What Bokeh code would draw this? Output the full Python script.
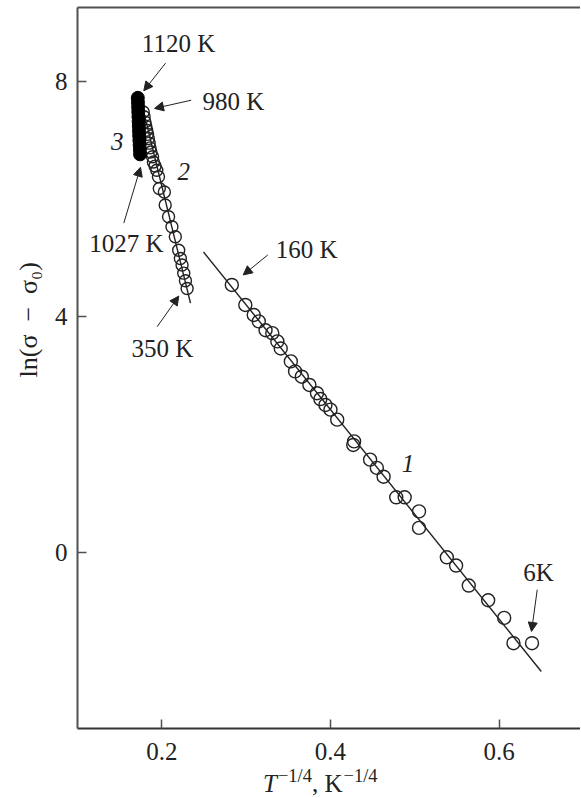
from bokeh.plotting import figure
from bokeh.models import Range1d, LinearAxis, FixedTicker, Label, Arrow, NormalHead, Title, Div
from bokeh.layouts import column
from bokeh.embed import file_html
from bokeh.resources import INLINE

FONT = "Liberation Serif"

# ---- data ----
# curve 1 (open circles, low temperature, 160 K ... 6 K)
c1_x = [0.283, 0.299, 0.309, 0.315, 0.323, 0.331, 0.337, 0.341, 0.353, 0.358, 0.366,
        0.375, 0.384, 0.388, 0.394, 0.400, 0.408, 0.428, 0.427, 0.447, 0.455, 0.463,
        0.478, 0.488, 0.505, 0.505, 0.538, 0.549, 0.564, 0.587, 0.606, 0.617, 0.639]
c1_y = [4.54, 4.20, 4.03, 3.92, 3.77, 3.72, 3.58, 3.46, 3.24, 3.07, 2.98,
        2.84, 2.70, 2.60, 2.50, 2.42, 2.25, 1.88, 1.82, 1.57, 1.43, 1.28,
        0.93, 0.93, 0.69, 0.41, -0.09, -0.23, -0.57, -0.82, -1.12, -1.55, -1.55]
# fitted line 1
l1_x = [0.2494, 0.650]
l1_y = [5.10, -2.03]

# curve 2 (open circles, 980 K ... 350 K)
c2_x = [0.178, 0.179, 0.180, 0.181, 0.182, 0.183, 0.184, 0.185, 0.186, 0.187, 0.189,
        0.190, 0.192, 0.194, 0.196, 0.197, 0.203, 0.204, 0.208, 0.212, 0.216, 0.220,
        0.222, 0.224, 0.226, 0.228, 0.230]
c2_y = [7.48, 7.40, 7.31, 7.24, 7.17, 7.10, 7.03, 6.95, 6.87, 6.80, 6.72,
        6.63, 6.56, 6.49, 6.38, 6.18, 6.12, 5.90, 5.70, 5.53, 5.36, 5.13,
        4.99, 4.88, 4.74, 4.61, 4.48]
l2_x = [0.179, 0.234]
l2_y = [7.45, 4.23]

# curve 3 (filled circles, 1120 K ... 1027 K)
c3_x = [0.1715, 0.1717, 0.1719, 0.1721, 0.1723, 0.1725, 0.1727, 0.1729, 0.1731,
        0.1734, 0.1737, 0.1740, 0.1742]
c3_y = [7.72, 7.64, 7.56, 7.48, 7.40, 7.32, 7.24, 7.16, 7.08, 7.00, 6.92, 6.84, 6.76]

x_ticks = [0.2, 0.4, 0.6]
y_ticks = [0, 4, 8]

# annotations: text, x, y, italic
ann_text = ["1120 K", "980 K", "1027 K", "160 K", "350 K", "6K", "3", "2", "1"]
ann_x = [0.2198, 0.285, 0.158, 0.3716, 0.2008, 0.6467, 0.147, 0.226, 0.492]
ann_y = [8.65, 7.66, 5.25, 5.15, 3.46, -0.35, 6.97, 6.46, 1.50]
ann_italic = [False, False, False, False, False, False, True, True, True]

# arrows: start -> end
arr_x0 = [0.2044, 0.2348, 0.1549, 0.3257, 0.1945, 0.6452]
arr_y0 = [8.31, 7.68, 5.59, 5.05, 3.83, -0.64]
arr_x1 = [0.1786, 0.1913, 0.1747, 0.2965, 0.2201, 0.6384]
arr_y1 = [7.84, 7.54, 6.54, 4.71, 4.35, -1.35]

FS = "25px"
TXT = "#222222"

# ---- figure ----
p = figure(width=580, height=774, output_backend="svg", toolbar_location=None,
           x_range=Range1d(0.1, 0.6965), y_range=Range1d(-3.0, 9.256),
           min_border_left=77, min_border_right=0, min_border_top=7,
           min_border_bottom=46)
p.outline_line_color = None
p.grid.visible = False
p.background_fill_color = "white"

AX_COLOR = "#505050"
for ax in (p.xaxis[0], p.yaxis[0]):
    ax.major_tick_in = 9
    ax.major_tick_out = 0
    ax.minor_tick_line_color = None
    ax.axis_line_color = AX_COLOR
    ax.axis_line_width = 2
    ax.major_tick_line_color = AX_COLOR
    ax.major_tick_line_width = 1.5
    ax.major_label_text_font = FONT
    ax.major_label_text_font_size = FS
    ax.major_label_text_color = TXT
p.xaxis.ticker = FixedTicker(ticks=x_ticks)
p.yaxis.ticker = FixedTicker(ticks=y_ticks)
p.xaxis.major_label_standoff = 14
p.yaxis.major_label_standoff = 10
p.xaxis.axis_line_color = "#333333"

ylab = Title(text="ln(σ\u2002−\u2002σ₀)", text_font=FONT, text_font_size="26px",
             text_font_style="normal", text_color=TXT, align="left",
             offset=351, standoff=18)
p.add_layout(ylab, "left")

top = LinearAxis(ticker=FixedTicker(ticks=[]), axis_line_color=AX_COLOR,
                 axis_line_width=2, major_tick_line_color=None,
                 minor_tick_line_color=None, major_label_text_font_size="0px")
p.add_layout(top, "above")

# lines
p.line(l1_x, l1_y, line_color=TXT, line_width=1.4)
p.line(l2_x, l2_y, line_color=TXT, line_width=1.4)

# points
p.scatter(c1_x, c1_y, marker="circle", size=13, fill_color=None,
          line_color=TXT, line_width=1.4)
p.scatter(c2_x, c2_y, marker="circle", size=12, fill_color=None,
          line_color=TXT, line_width=1.4)
p.scatter(c3_x, c3_y, marker="circle", size=13, fill_color="black",
          line_color="black", line_width=1)

# annotations
for t, x, y, it in zip(ann_text, ann_x, ann_y, ann_italic):
    p.add_layout(Label(x=x, y=y, text=t, text_font=FONT, text_font_size=FS,
                       text_font_style="italic" if it else "normal",
                       text_align="center", text_baseline="middle",
                       text_color=TXT))

for x0, y0, x1, y1 in zip(arr_x0, arr_y0, arr_x1, arr_y1):
    p.add_layout(Arrow(x_start=x0, y_start=y0, x_end=x1, y_end=y1,
                       line_color=TXT, line_width=1,
                       end=NormalHead(size=9, fill_color=TXT,
                                      line_color=TXT, line_width=1)))

# x axis title with italic T and superscripts
SUP = ('<span style="font-size:0.74em;position:relative;top:-0.55em;'
       'vertical-align:baseline;padding-left:1px">−1/4</span>')
xtitle = Div(text='<i>T</i>' + SUP + ', K' + SUP,
             width=300, height=22, margin=(-2, 0, 0, 263),
             styles={"font-family": FONT, "font-size": FS, "color": TXT,
                     "line-height": "24px", "white-space": "nowrap"})

layout = column(p, xtitle, spacing=0)
open("out.html", "w").write(file_html(layout, INLINE))
